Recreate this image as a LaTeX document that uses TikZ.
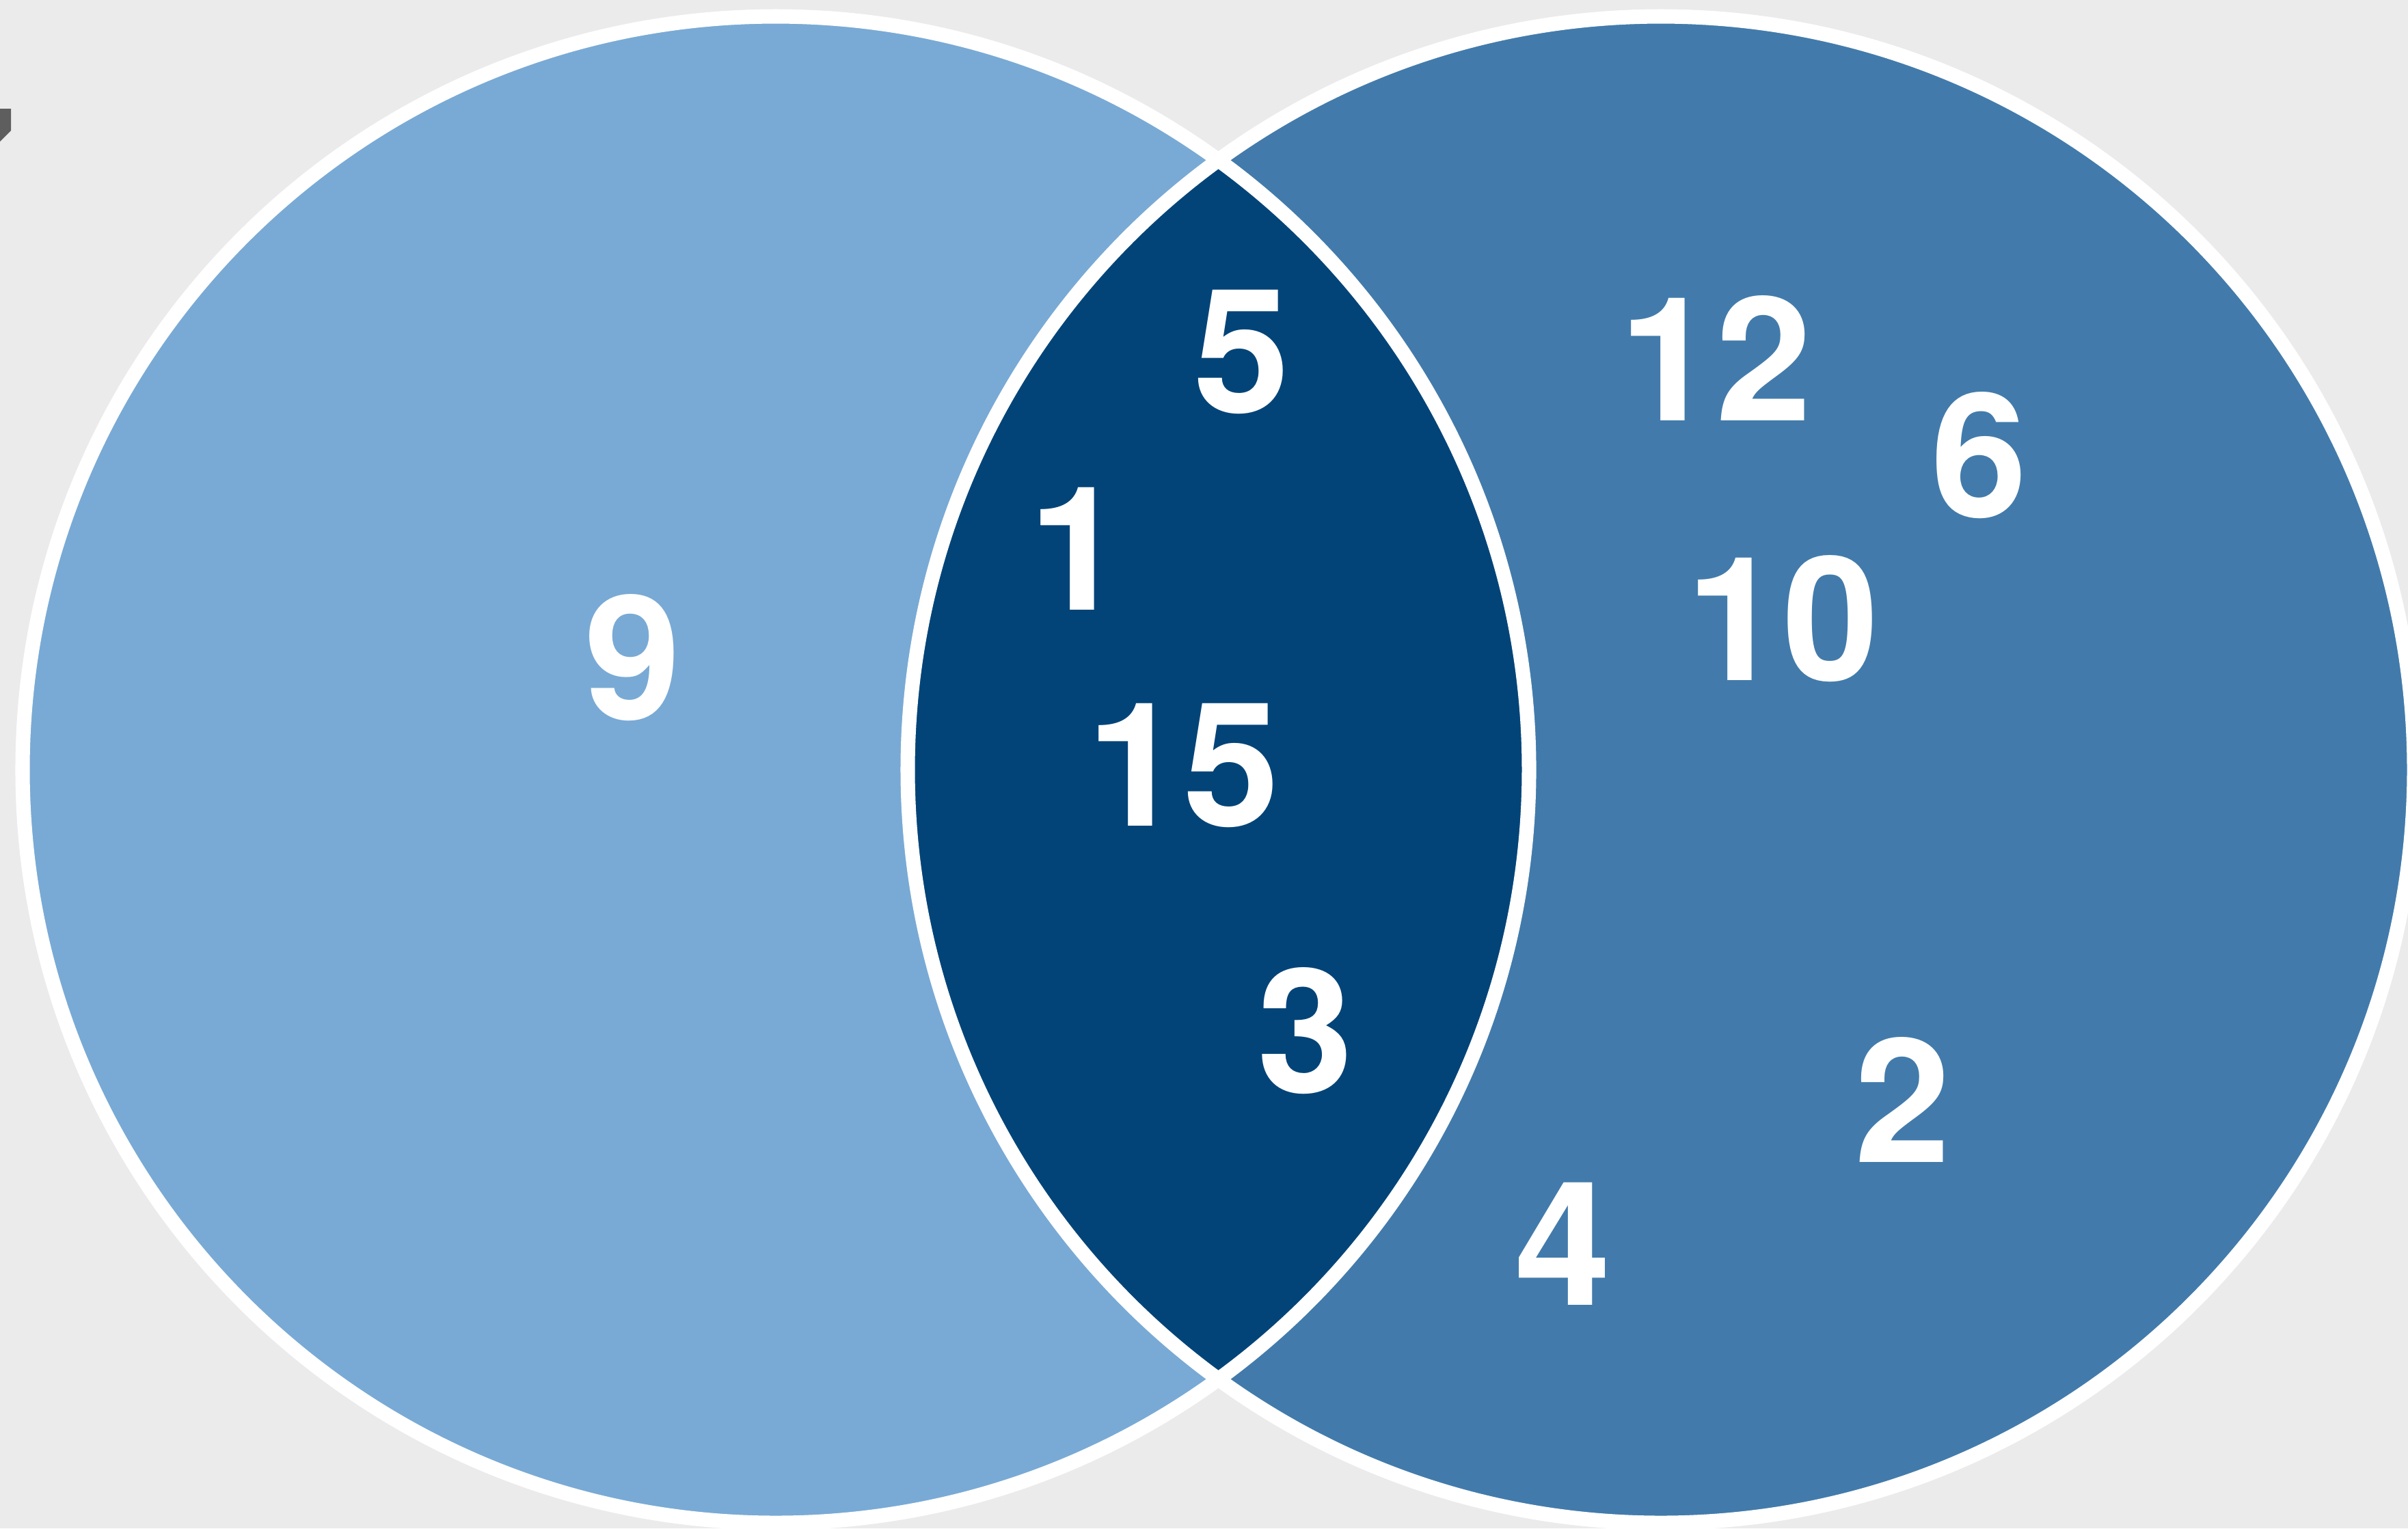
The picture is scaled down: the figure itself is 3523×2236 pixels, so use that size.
\documentclass[tikz,border=0pt]{standalone}
\usepackage{fontspec}
\setmainfont{TeX Gyre Heros}
\usepackage{xcolor}
\usepackage{tikz}
\usetikzlibrary{positioning}
\definecolor{bggray}{HTML}{EBEBEB}
\definecolor{setaone}{HTML}{79AAD5}
\definecolor{setbtwo}{HTML}{427BAB}
\definecolor{bothdark}{HTML}{034478}
\definecolor{markgray}{HTML}{5E5E5E}

\begin{document}
\begin{tikzpicture}[
    x=0.005cm, y=-0.005cm,
    num/.style={text=white, inner sep=0pt, font=\fontsize{36}{40}\bfseries\selectfont},
    rim/.style={draw=white, line width=3pt},
  ]
  \useasboundingbox (0,0) rectangle (3523,2236);
  \fill[bggray] (0,0) rectangle (3523,2236);
  \fill[markgray] (0,159) -- (16,159) -- (16,191) -- (0,207) -- cycle;

  \coordinate (lc) at (1135,1126);
  \coordinate (rc) at (2430,1126);

  \fill[setaone] (lc) circle[radius=1102];
  \fill[setbtwo] (rc) circle[radius=1102];
  \begin{scope}
    \clip (lc) circle[radius=1102];
    \fill[bothdark] (rc) circle[radius=1102];
  \end{scope}
  \draw[rim] (lc) circle[radius=1102];
  \draw[rim] (rc) circle[radius=1102];

  \foreach \n/\x/\y in {9/926/962, 5/1817/515, 1/1576/803, 15/1731/1120, 3/1910/1508,
                         12/2510/524, 6/2896/666, 10/2608/905, 2/2784/1609, 4/2287/1820}
    \node[num] (n\n) at (\x,\y) {\n};
\end{tikzpicture}
\end{document}
